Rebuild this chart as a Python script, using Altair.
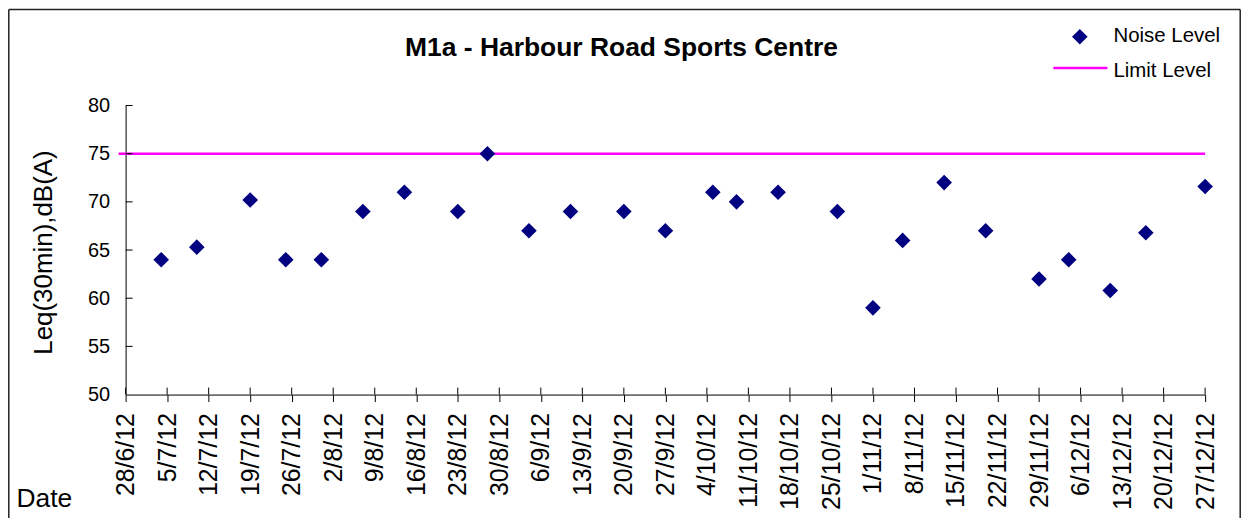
import altair as alt
import pandas as pd

FONT = "Liberation Sans, Arial, sans-serif"

# ---- data ----
sample_dates = [
    "2012-07-04", "2012-07-10", "2012-07-19", "2012-07-25", "2012-07-31",
    "2012-08-07", "2012-08-14", "2012-08-23", "2012-08-28", "2012-09-04",
    "2012-09-11", "2012-09-20", "2012-09-27", "2012-10-05", "2012-10-09",
    "2012-10-16", "2012-10-26", "2012-11-01", "2012-11-06", "2012-11-13",
    "2012-11-20", "2012-11-29", "2012-12-04", "2012-12-11", "2012-12-17",
    "2012-12-27",
]
noise_levels = [
    64.0, 65.3, 70.2, 64.0, 64.0,
    69.0, 71.0, 69.0, 75.0, 67.0,
    69.0, 69.0, 67.0, 71.0, 70.0,
    71.0, 69.0, 59.0, 66.0, 72.0,
    67.0, 62.0, 64.0, 60.8, 66.8,
    71.6,
]
limit_level = 75
x_tick_labels = [
    "28/6/12", "5/7/12", "12/7/12", "19/7/12", "26/7/12", "2/8/12", "9/8/12",
    "16/8/12", "23/8/12", "30/8/12", "6/9/12", "13/9/12", "20/9/12", "27/9/12",
    "4/10/12", "11/10/12", "18/10/12", "25/10/12", "1/11/12", "8/11/12",
    "15/11/12", "22/11/12", "29/11/12", "6/12/12", "13/12/12", "20/12/12",
    "27/12/12",
]
y_ticks = [50, 55, 60, 65, 70, 75, 80]
legend_labels = ["Noise Level", "Limit Level"]
title_text = "M1a - Harbour Road Sports Centre"


def label_to_dt(lbl):
    d, m, y = lbl.split("/")
    return alt.DateTime(year=2000 + int(y), month=int(m), date=int(d), utc=True)


def label_to_iso(lbl):
    d, m, y = lbl.split("/")
    return f"{2000 + int(y):04d}-{int(m):02d}-{int(d):02d}"


tick_dt = [label_to_dt(t) for t in x_tick_labels]
points_df = pd.DataFrame({"date": sample_dates, "level": noise_levels})
xtick_df = pd.DataFrame({"date": [label_to_iso(t) for t in x_tick_labels]})
ytick_df = pd.DataFrame({"level": y_ticks[1:]})
one = pd.DataFrame({"k": [0]})

W, H = 1083, 290

x_enc = alt.X(
    "date:T",
    scale=alt.Scale(type="utc", domain=[tick_dt[0], tick_dt[-1]]),
    axis=alt.Axis(
        values=tick_dt,
        labelExpr="utcFormat(datum.value, '%-d/%-m/%y')",
        labelAngle=270, labelAlign="right", labelBaseline="middle",
        labelFontSize=25, labelPadding=11, tickSize=7,
        labelOverlap=False, labelFlush=False,
        title="Date", titleX=-110, titleY=112, titleAlign="left",
        titleBaseline="alphabetic", titleAngle=0, titleFontSize=26.5,
        titleFontWeight="normal", grid=False,
    ),
)
y_enc = alt.Y(
    "level:Q",
    scale=alt.Scale(domain=[50, 80], nice=False, zero=False),
    axis=alt.Axis(
        values=y_ticks, ticks=False, labelPadding=16, labelFontSize=20,
        labelFlush=False, labelOverlap=False,
        title="Leq(30min),dB(A)", titleFontSize=26, titleFontWeight="normal",
        titleAngle=270, titleX=-82, titleY=H / 2 + 2, titleAlign="center",
        titleBaseline="middle", grid=False,
    ),
)

points = alt.Chart(points_df).mark_point(
    shape="diamond", filled=True, size=245, color="#000080", opacity=1
).encode(x=x_enc, y=y_enc)

limit = alt.Chart(one).mark_rule(color="#FF00FF", strokeWidth=2.5).encode(
    y=alt.datum(limit_level), x=alt.value(-7), x2=alt.value(W)
)

xticks_up = alt.Chart(xtick_df).mark_rule(color="black", strokeWidth=1).encode(
    x=x_enc, y=alt.value(H - 7), y2=alt.value(H)
)
yticks_in = alt.Chart(ytick_df).mark_rule(color="black", strokeWidth=1).encode(
    y=y_enc, x=alt.value(0), x2=alt.value(7)
)

# chart title
title = alt.Chart(one).mark_text(
    align="center", baseline="alphabetic", fontSize=26.5, fontWeight="bold",
    font=FONT, color="black",
).encode(x=alt.value(497.5), y=alt.value(-50), text=alt.value(title_text))

# legend (top right)
leg_pt = alt.Chart(one).mark_point(
    shape="diamond", filled=True, size=245, color="#000080", opacity=1
).encode(x=alt.value(957.3), y=alt.value(-69))
leg_t1 = alt.Chart(one).mark_text(
    align="left", baseline="alphabetic", fontSize=20.5, font=FONT, color="black"
).encode(x=alt.value(991), y=alt.value(-63.3), text=alt.value(legend_labels[0]))
leg_line = alt.Chart(one).mark_rule(color="#FF00FF", strokeWidth=2.5).encode(
    x=alt.value(930.7), x2=alt.value(985), y=alt.value(-37.7)
)
leg_t2 = alt.Chart(one).mark_text(
    align="left", baseline="alphabetic", fontSize=20.5, font=FONT, color="black"
).encode(x=alt.value(991), y=alt.value(-29), text=alt.value(legend_labels[1]))

# outer frame (left, top, right edges)
frame_l = alt.Chart(one).mark_rule(color="#222222", strokeWidth=1.5).encode(
    x=alt.value(-117.2), y=alt.value(-96.2), y2=alt.value(420)
)
frame_t = alt.Chart(one).mark_rule(color="#222222", strokeWidth=1.5).encode(
    x=alt.value(-117.2), x2=alt.value(1118.2), y=alt.value(-96.2)
)
frame_r = alt.Chart(one).mark_rule(color="#222222", strokeWidth=1.5).encode(
    x=alt.value(1118.2), y=alt.value(-96.2), y2=alt.value(420)
)

chart = alt.layer(
    frame_l, frame_t, frame_r, limit, xticks_up, yticks_in, points,
    title, leg_pt, leg_t1, leg_line, leg_t2,
).properties(
    width=W, height=H,
    autosize=alt.AutoSizeParams(type="none"),
    padding={"left": 118, "top": 97, "right": 36, "bottom": 123},
).configure(
    background="white",
).configure_view(
    stroke=None,
).configure_axis(
    labelFont=FONT, titleFont=FONT, labelColor="black", titleColor="black",
    domainColor="black", tickColor="black", domainWidth=1, tickWidth=1,
)

chart.save("out.html", embed_options={"renderer": "svg", "actions": False})
